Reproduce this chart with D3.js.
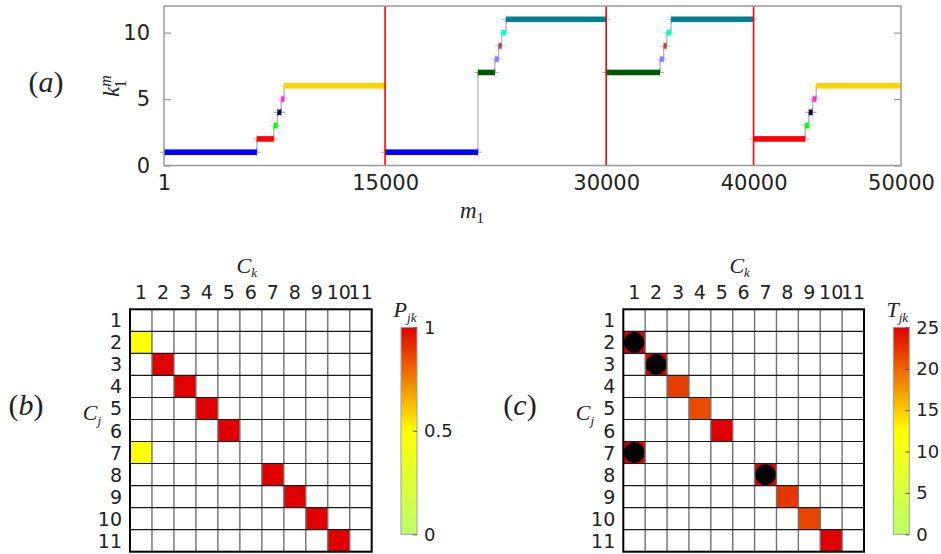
<!DOCTYPE html>
<html><head><meta charset="utf-8">
<script src="https://cdn.jsdelivr.net/npm/d3@7"></script>
<style>
body{margin:0;background:#fff;}
svg{display:block;}
text{font-family:"DejaVu Sans",sans-serif;fill:#222;}
.math{font-family:"Liberation Serif","DejaVu Serif",serif;font-style:italic;fill:#222;}
.up{font-family:"Liberation Serif","DejaVu Serif",serif;font-style:normal;}
</style></head>
<body>
<script>
// ---------- DATA ----------
// panel (a): steps of k_1^m versus m_1
const stepStart = [1, 6300, 7450, 7700, 7950, 8150, 15000, 21300, 22450, 22700, 22900, 23200, 30000, 33650, 33900, 34100, 34400, 40000, 43500, 43750, 44000, 44250];
const stepEnd   = [6300, 7450, 7700, 7950, 8150, 15000, 21300, 22450, 22700, 22900, 23200, 30000, 33650, 33900, 34100, 34400, 40000, 43500, 43750, 44000, 44250, 50000];
const stepK     = [1, 2, 3, 4, 5, 6, 1, 7, 8, 9, 10, 11, 7, 8, 9, 10, 11, 2, 3, 4, 5, 6];
const boundaries = [15000, 30000, 40000];
const xTicks = [1, 15000, 30000, 40000, 50000];
const yTicks = [0, 5, 10];
// panel (b): P_jk
const clusters = [1,2,3,4,5,6,7,8,9,10,11];
const pRow = [2, 7, 3, 4, 5, 6, 8, 9, 10, 11];
const pCol = [1, 1, 2, 3, 4, 5, 7, 8, 9, 10];
const pVal = [0.5, 0.5, 1, 1, 1, 1, 1, 1, 1, 1];
const pTicks = [0, 0.5, 1];
// panel (c): T_jk (values above 25 are saturated and marked by a black disc)
const tRow = [2, 3, 4, 5, 6, 7, 8, 9, 10, 11];
const tCol = [1, 2, 3, 4, 5, 1, 7, 8, 9, 10];
const tVal = [40, 40, 22, 21.3, 25, 40, 40, 22.3, 21.5, 25];
const tTicks = [0, 5, 10, 15, 20, 25];

// ---------- STYLE ----------
const kColor = {1:"#0000ff",2:"#ff0000",3:"#00ff00",4:"#0b0b3b",5:"#ff2fc8",6:"#ffd200",
                7:"#005a00",8:"#8080ff",9:"#a3504a",10:"#00ffc8",11:"#00808f"};

const W = 941, H = 554;
const svg = d3.select("body").append("svg").attr("width", W).attr("height", H);

// ---------- PANEL (a) ----------
const x = d3.scaleLinear().domain([1, 50000]).range([164, 901]);
const y = d3.scaleLinear().domain([0, 12]).range([165.5, 6]);
const ga = svg.append("g");

const steps = stepStart.map((s, i) => ({s, e: stepEnd[i], k: stepK[i]}));
const conns = [];
steps.forEach((d, i) => {
  if (i < steps.length - 1 && steps[i+1].s === d.e && !boundaries.includes(d.e))
    conns.push({m: d.e, k0: d.k, k1: steps[i+1].k});
});
ga.selectAll(".conn").data(conns).join("line")
  .attr("x1", d => x(d.m)).attr("x2", d => x(d.m))
  .attr("y1", d => y(d.k0)).attr("y2", d => y(d.k1))
  .attr("stroke", "#bdbdbd").attr("stroke-width", 1.5);

ga.selectAll(".wh").data(steps).join("line")
  .attr("x1", d => x(d.s) - 4).attr("x2", d => x(d.e) + 4)
  .attr("y1", d => y(d.k)).attr("y2", d => y(d.k))
  .attr("stroke", d => kColor[d.k]).attr("stroke-opacity", 0.4).attr("stroke-width", 1);
["s","e"].forEach(f => {
  ga.selectAll(".wv"+f).data(steps).join("line")
    .attr("x1", d => x(d[f])).attr("x2", d => x(d[f]))
    .attr("y1", d => y(d.k) - 4.5).attr("y2", d => y(d.k) + 4.5)
    .attr("stroke", d => kColor[d.k]).attr("stroke-opacity", 0.3).attr("stroke-width", 1);
});
ga.selectAll(".bar").data(steps).join("rect")
  .attr("x", d => x(d.s)).attr("width", d => Math.max(3, x(d.e) - x(d.s)))
  .attr("y", d => y(d.k) - 2.8).attr("height", 5.6)
  .attr("fill", d => kColor[d.k]);

ga.selectAll(".bd").data(boundaries).join("line")
  .attr("x1", d => x(d)).attr("x2", d => x(d))
  .attr("y1", y(12)).attr("y2", y(0))
  .attr("stroke", "#ff0000").attr("stroke-width", 1.6);

ga.append("rect").attr("x", 164).attr("y", 6).attr("width", 737).attr("height", 159.5)
  .attr("fill", "none").attr("stroke", "#9a9a9a").attr("stroke-width", 1.5);
const yl = ga.append("g").attr("transform", "translate(164,0)")
  .call(d3.axisLeft(y).tickValues(yTicks).tickSize(-7).tickPadding(14));
yl.select(".domain").remove();
yl.selectAll("line").attr("stroke", "#9a9a9a").attr("stroke-width", 1.2);
yl.selectAll("text").style("font-size", "21px").attr("fill", "#222");
const yr = ga.append("g").attr("transform", "translate(901,0)")
  .call(d3.axisRight(y).tickValues(yTicks).tickSize(-7).tickFormat(""));
yr.select(".domain").remove();
yr.selectAll("line").attr("stroke", "#9a9a9a").attr("stroke-width", 1.2);

const xa = ga.append("g").attr("transform", "translate(0,165.5)")
  .call(d3.axisBottom(x).tickValues(xTicks).tickSize(0).tickPadding(10).tickFormat(d3.format("d")));
xa.select(".domain").remove();
xa.selectAll("text").style("font-size", "21px").attr("fill", "#222");

svg.append("text").attr("x", 46).attr("y", 92).attr("text-anchor", "middle")
  .attr("class", "math").style("font-size", "30px")
  .html('<tspan class="up">(</tspan>a<tspan class="up">)</tspan>');
const kl = svg.append("text").attr("class", "math").style("font-size", "23px")
  .attr("transform", "translate(119,86) rotate(-90)").attr("text-anchor", "middle");
kl.append("tspan").text("k");
kl.append("tspan").attr("dy", -8).style("font-size", "16px").text("m");
kl.append("tspan").attr("dx", -13).attr("dy", 15).style("font-size", "16px").style("font-style", "normal").text("1");
const ml = svg.append("text").attr("class", "math").style("font-size", "23px")
  .attr("x", 472).attr("y", 218).attr("text-anchor", "middle");
ml.append("tspan").text("m");
ml.append("tspan").attr("dy", 5).style("font-size", "15px").style("font-style", "normal").text("1");

// ---------- MATRIX PANELS ----------
function matrixPanel(opt) {
  const g = svg.append("g");
  const cx = d3.scaleBand().domain(clusters).range([opt.x0, opt.x1]);
  const cy = d3.scaleBand().domain(clusters).range([309.3, 551.7]);
  const color = d3.scaleLinear().domain([0, opt.max/2, opt.max]).range(["#bbff6c", "#ffff00", "#e00000"]).clamp(true);
  const cells = opt.rows.map((r, i) => ({r, c: opt.cols[i], v: opt.vals[i]}));
  g.selectAll(".cell").data(cells).join("rect")
    .attr("x", d => cx(d.c)).attr("y", d => cy(d.r))
    .attr("width", cx.bandwidth()).attr("height", cy.bandwidth())
    .attr("fill", d => color(d.v));
  g.selectAll(".disc").data(cells.filter(d => d.v > opt.max)).join("circle")
    .attr("cx", d => cx(d.c) + cx.bandwidth()/2).attr("cy", d => cy(d.r) + cy.bandwidth()/2)
    .attr("r", cx.bandwidth()/2 - 0.5).attr("fill", "#000");
  g.selectAll(".vl").data(clusters.slice(1)).join("line")
    .attr("x1", d => cx(d)).attr("x2", d => cx(d)).attr("y1", 309.3).attr("y2", 551.7)
    .attr("stroke", "#707070").attr("stroke-width", 1.4);
  g.selectAll(".hl").data(clusters.slice(1)).join("line")
    .attr("y1", d => cy(d)).attr("y2", d => cy(d)).attr("x1", opt.x0).attr("x2", opt.x1)
    .attr("stroke", "#1a1a1a").attr("stroke-width", 1.1);
  g.append("rect").attr("x", opt.x0).attr("y", 309.3).attr("width", opt.x1 - opt.x0).attr("height", 242.4)
    .attr("fill", "none").attr("stroke", "#000").attr("stroke-width", 2);
  g.selectAll(".ct").data(clusters).join("text")
    .attr("x", d => cx(d) + cx.bandwidth()/2).attr("y", 299).attr("text-anchor", "middle")
    .style("font-size", "19px").text(d => d);
  g.selectAll(".rt").data(clusters).join("text")
    .attr("x", opt.x0 - 8).attr("y", d => cy(d) + cy.bandwidth()/2 + 7).attr("text-anchor", "end")
    .style("font-size", "19px").text(d => d);
  const ck = g.append("text").attr("class", "math").style("font-size", "22px")
    .attr("x", (opt.x0 + opt.x1)/2 - 4).attr("y", 273).attr("text-anchor", "middle");
  ck.append("tspan").text("C");
  ck.append("tspan").attr("dy", 4).style("font-size", "13px").text("k");
  const cj = g.append("text").attr("class", "math").style("font-size", "22px")
    .attr("x", opt.cjx).attr("y", 420).attr("text-anchor", "middle");
  cj.append("tspan").text("C");
  cj.append("tspan").attr("dy", 5).style("font-size", "13px").text("j");
  g.append("text").attr("class", "math").style("font-size", "30px")
    .attr("x", opt.lx).attr("y", 415).attr("text-anchor", "middle")
    .html('<tspan class="up">(</tspan>' + opt.letter + '<tspan class="up">)</tspan>');
  const gid = "grad" + opt.letter;
  const grad = svg.append("defs").append("linearGradient").attr("id", gid)
    .attr("x1", 0).attr("x2", 0).attr("y1", 1).attr("y2", 0);
  d3.range(0, 1.0001, 0.1).forEach(t => grad.append("stop").attr("offset", t).attr("stop-color", color(t * opt.max)));
  const cb = d3.scaleLinear().domain([0, opt.max]).range([534.3, 327.3]);
  g.append("rect").attr("x", opt.cbx).attr("y", 327.3).attr("width", 16).attr("height", 207)
    .attr("fill", `url(#${gid})`).attr("stroke", "#a0a0a0").attr("stroke-width", 1);
  const ca = g.append("g").attr("transform", `translate(${opt.cbx + 16},0)`)
    .call(d3.axisRight(cb).tickValues(opt.ticks).tickSize(-4).tickPadding(7).tickFormat(d => d));
  ca.select(".domain").remove();
  ca.selectAll("line").attr("stroke", "#555");
  ca.selectAll("text").style("font-size", "18px").attr("fill", "#222");
  const pl = g.append("text").attr("class", "math").style("font-size", "22px")
    .attr("x", opt.cbx + 4).attr("y", 317).attr("text-anchor", "middle");
  pl.append("tspan").text(opt.cbLabel);
  pl.append("tspan").attr("dy", 5).style("font-size", "13px").text("jk");
}

matrixPanel({x0: 130, x1: 371.7, rows: pRow, cols: pCol, vals: pVal, max: 1, ticks: pTicks,
  cbx: 401, cbLabel: "P", letter: "b", lx: 26, cjx: 92});
matrixPanel({x0: 623.3, x1: 864, rows: tRow, cols: tCol, vals: tVal, max: 25, ticks: tTicks,
  cbx: 893.3, cbLabel: "T", letter: "c", lx: 520, cjx: 585});
</script>
</body></html>
